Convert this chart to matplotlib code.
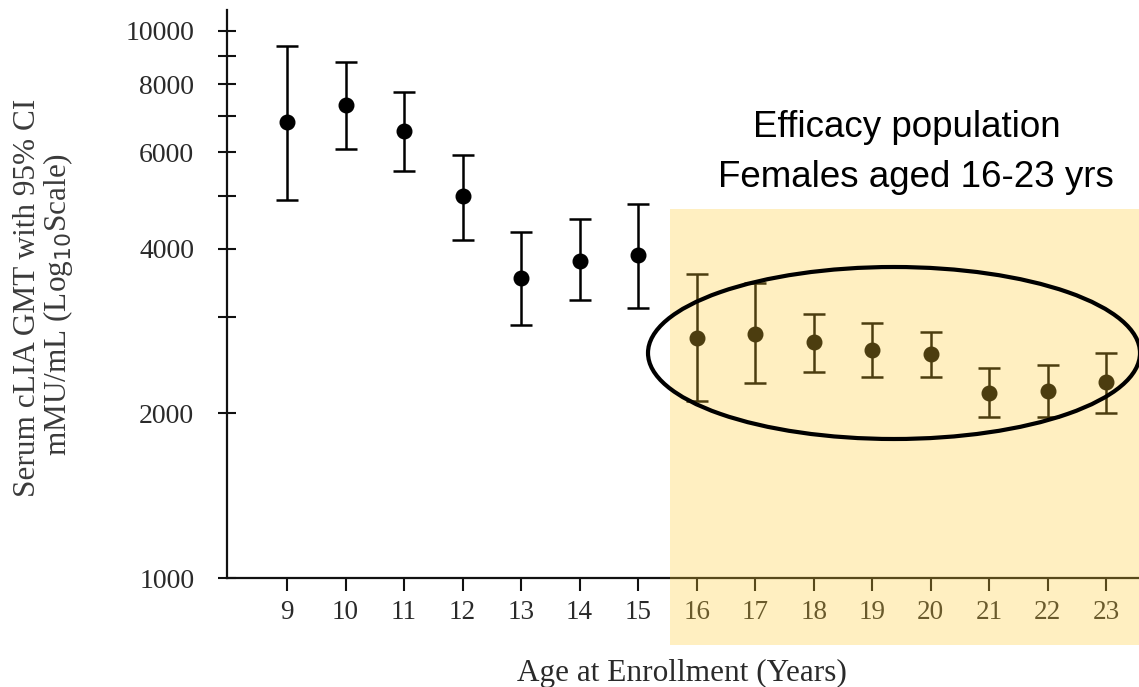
import matplotlib
matplotlib.use("Agg")
import matplotlib.pyplot as plt
from matplotlib.patches import Rectangle, Ellipse
from matplotlib.ticker import FixedLocator, NullFormatter

# GMT values with 95% CI
ages = [9, 10, 11, 12, 13, 14, 15, 16, 17, 18, 19, 20, 21, 22, 23]
gmt = [6817, 7322, 6565, 4994, 3535, 3798, 3894, 2747, 2793, 2701, 2612, 2568, 2179, 2197, 2282]
ci_low = [4910, 6083, 5548, 4150, 2900, 3223, 3116, 2106, 2272, 2380, 2331, 2331, 1970, 1970, 2003]
ci_high = [9388, 8777, 7737, 5935, 4292, 4532, 4828, 3595, 3462, 3039, 2925, 2817, 2420, 2451, 2578]

ytick_major = [1000, 2000, 4000, 6000, 8000, 10000]
ytick_minor = [3000, 5000, 7000, 9000]

W, H = 1139, 687
fig = plt.figure(figsize=(W / 100, H / 100), dpi=100)
ax = fig.add_axes([227 / W, 1 - 578 / H, 1 - 227 / W, (578 - 10) / H])

serif = ["Liberation Serif", "DejaVu Serif"]
txt = "#2a2a2a"

yerr = [[g - lo for g, lo in zip(gmt, ci_low)], [hi - g for g, hi in zip(gmt, ci_high)]]
ax.errorbar(ages, gmt, yerr=yerr, fmt="o", color="black", markersize=10.5,
            elinewidth=1.8, capsize=8, capthick=1.8, clip_on=False)

ax.set_yscale("log")
ax.set_ylim(1000, 10924)
ax.set_xlim(7.974, 23.56)

ax.yaxis.set_major_locator(FixedLocator(ytick_major))
ax.yaxis.set_minor_locator(FixedLocator(ytick_minor))
ax.yaxis.set_major_formatter(plt.FixedFormatter([str(v) for v in ytick_major]))
ax.yaxis.set_minor_formatter(NullFormatter())
ax.set_xticks(ages)
ax.set_xticklabels([str(a) for a in ages])

for s in ["top", "right"]:
    ax.spines[s].set_visible(False)
for s in ["left", "bottom"]:
    ax.spines[s].set_linewidth(1.6)
    ax.spines[s].set_color("#111111")

ax.tick_params(axis="y", which="both", direction="inout", length=13, width=1.5,
               pad=17, labelsize=20, labelcolor=txt, color="#111111")
ax.tick_params(axis="x", which="both", direction="out", length=9.5, width=1.5,
               pad=6, labelsize=19.5, labelcolor=txt, color="#111111")
for lab in ax.get_xticklabels() + ax.get_yticklabels():
    lab.set_family(serif)

fig.text(28 / W, 1 - 298 / H, "Serum cLIA GMT with 95% CI", rotation=90,
         ha="center", va="center", fontsize=22.5, color="#3a3a3a", family=serif)
fig.text(58 / W, 1 - 304 / H, "mMU/mL (Log$_{10}$Scale)", rotation=90,
         ha="center", va="center", fontsize=22.5, color="#3a3a3a", family=serif)
fig.text(682 / W, 1 - 681 / H, "Age at Enrollment (Years)", ha="center", va="baseline",
         fontsize=22.5, color=txt, family=serif)

sans = ["Liberation Sans", "DejaVu Sans"]
fig.text(907 / W, 1 - 137 / H, "Efficacy population", ha="center", va="baseline",
         fontsize=26.5, color="black", family=sans)
fig.text(916 / W, 1 - 187 / H, "Females aged 16-23 yrs", ha="center", va="baseline",
         fontsize=26.5, color="black", family=sans)

# highlighted efficacy region overlaid on the plot
fig.add_artist(Rectangle((670 / W, 1 - 645 / H), (W - 670) / W, (645 - 209) / H,
                         transform=fig.transFigure, facecolor="#FFCC33", alpha=0.3,
                         edgecolor="none", zorder=5))
fig.add_artist(Ellipse((894 / W, 1 - 353 / H), 492 / W, 172 / H,
                       transform=fig.transFigure, facecolor="none", edgecolor="black",
                       linewidth=3, zorder=6))

fig.savefig("out.png", dpi=100)
